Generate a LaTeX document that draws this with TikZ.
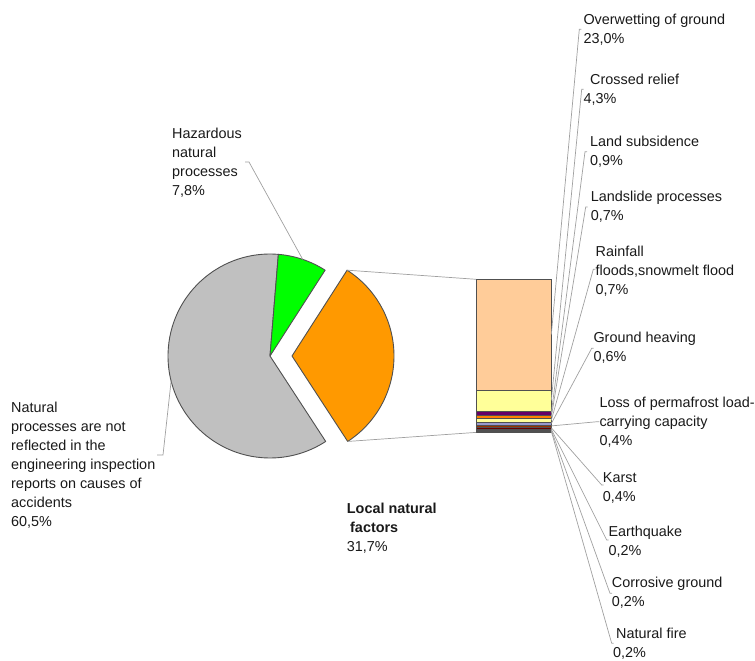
\documentclass[tikz,border=0pt]{standalone}
\usepackage{fontspec}
\setmainfont{Liberation Sans}
\definecolor{pgray}{HTML}{C0C0C0}
\definecolor{pgreen}{HTML}{00FF00}
\definecolor{porange}{HTML}{FF9900}
\definecolor{sA}{HTML}{FFCC99}
\definecolor{sB}{HTML}{FFFF99}
\definecolor{sC}{HTML}{660066}
\definecolor{sD}{HTML}{FF8000}
\definecolor{sE}{HTML}{FFFF99}
\definecolor{sF}{HTML}{9999CC}
\definecolor{sG}{HTML}{993300}
\definecolor{sH}{HTML}{660000}
\definecolor{sI}{HTML}{330000}
\definecolor{sJ}{HTML}{000000}
\definecolor{sK}{HTML}{220000}
\definecolor{leadc}{HTML}{A0A0A0}
\definecolor{edgec}{HTML}{505050}
\begin{document}
\begin{tikzpicture}[x=1pt,y=-1pt,
  lbl/.style={font=\fontsize{14.4}{19}\selectfont, align=left, inner sep=0pt, anchor=base west, text=black!90},
  leader/.style={draw=leadc, line width=0.7pt},
  wedge/.style={draw=edgec, line width=0.9pt, line join=round},
  seg/.style={draw=edgec, line width=0.5pt}]
\useasboundingbox (0,0) rectangle (755,661);
% ---------- pie ----------
\coordinate (C) at (270,356);
\coordinate (C2) at (292,356);
\path[wedge, fill=pgray] (C) -- ++(-85.3:102) arc[start angle=-85.3, end angle=-303.1, radius=102] -- cycle;
\path[wedge, fill=pgreen] (C) -- ++(-57.3:102) arc[start angle=-57.3, end angle=-85.3, radius=102] -- cycle;
\path[wedge, fill=porange] (C2) -- ++(56.9:102) arc[start angle=56.9, end angle=-57.3, radius=102] -- cycle;
\path (C2) ++(-57.3:102) coordinate (otop);
\path (C2) ++(56.9:102) coordinate (obot);
\path (C) ++(-71.3:102) coordinate (gmid);
\path (C) ++(-194.2:102) coordinate (graymid);
% ---------- bar ----------
\def\bl{476}\def\br{551.3}
\foreach \ya/\yb/\cc in {279.3/390.2/sA, 390.2/410.9/sB, 410.9/415.3/sC, 415.3/418.7/sD, 418.7/422.0/sE, 422.0/424.9/sF, 424.9/426.8/sG, 426.8/428.8/sH, 428.8/429.7/sI, 429.7/430.7/sJ, 430.7/431.7/sK}
  \path[seg, fill=\cc] (\bl,\ya) rectangle (\br,\yb);
\node[draw=edgec, line width=0.7pt, inner sep=0pt, minimum width=75.3pt, minimum height=152.4pt, anchor=north west] (bar) at (476,279.3) {};
% connectors pie -> bar
\draw[leader] (otop) -- (bar.north west);
\draw[leader] (obot) -- (bar.south west);
% ---------- labels (anchored at baseline of last line) ----------
\node[lbl] (n1) at (583.3,43.5) {Overwetting of ground\\23,0\%};
\node[lbl] (n2) at (583.3,103.5) {\hspace*{6.7pt}Crossed relief\\4,3\%};
\node[lbl] (n3) at (590,165.5) {Land subsidence\\0,9\%};
\node[lbl] (n4) at (590.7,220.2) {Landslide processes\\0,7\%};
\node[lbl] (n5) at (595.5,294.2) {Rainfall\\floods,snowmelt flood\\0,7\%};
\node[lbl] (n6) at (593.3,361.8) {Ground heaving\\0,6\%};
\node[lbl] (n7) at (599.3,445.8) {Loss of permafrost load-\\carrying capacity\\0,4\%};
\node[lbl] (n8) at (602.7,501.8) {Karst\\0,4\%};
\node[lbl] (n9) at (608.3,555.2) {Earthquake\\0,2\%};
\node[lbl] (n10) at (611.7,606.8) {Corrosive ground\\0,2\%};
\node[lbl] (n11) at (613,657.5) {\hspace*{3pt}Natural fire\\0,2\%};
\node[lbl] (hz) at (172,195.5) {Hazardous\\natural\\processes\\7,8\%};
\node[lbl] (np) at (11,526.8) {Natural\\processes are not\\reflected in the\\engineering inspection\\reports on causes of\\accidents\\60,5\%};
\node[lbl] (lnf) at (346.7,551.5) {\textbf{Local natural}\\\hspace*{3.3pt}\textbf{factors}\\31,7\%};
% ---------- leader lines ----------
\foreach \i/\by/\ex/\ey in {1/334.7/579.3/29.3, 2/400.5/581.7/89.3, 3/413.1/585/151.7, 4/417/585.7/207, 5/420.3/593.3/269.3, 6/423.5/591.7/348.3, 7/425.9/597.3/421.7, 8/427.8/601.7/485, 9/429.2/606.7/540, 10/430.2/610/593.3, 11/431.2/611.7/643.3} {
  \coordinate (b\i) at (\br,\by);
  \coordinate (e\i) at (\ex,\ey);
  \draw[leader] (b\i) -- (e\i) -- ++(2,0);
}
\coordinate (hzend) at (249,162);
\draw[leader] (gmid) -- (hzend) -- ++(-4,0);
\coordinate (npend) at (163,455);
\draw[leader] (graymid) -- (npend) -- ++(-6,0);
\end{tikzpicture}
\end{document}
